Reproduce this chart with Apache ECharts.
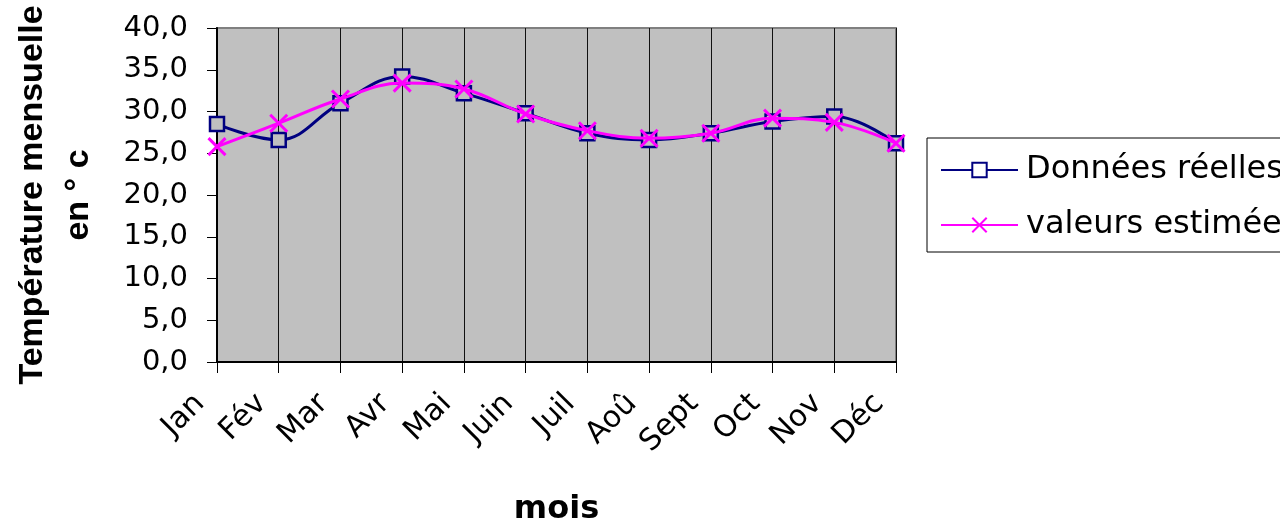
<!DOCTYPE html>
<html lang="fr">
<head>
<meta charset="utf-8">
<title>Température mensuelle</title>
<script src="https://cdn.jsdelivr.net/npm/echarts@6/dist/echarts.min.js"></script>
<style>
  html, body { margin: 0; padding: 0; background: #fff; }
  #chart { width: 1280px; height: 525px; }
</style>
</head>
<body>
<div id="chart"></div>
<script>
// Mois de l'année
const months = ['Jan', 'Fév', 'Mar', 'Avr', 'Mai', 'Juin', 'Juil', 'Aoû', 'Sept', 'Oct', 'Nov', 'Déc'];
// Températures mensuelles mesurées (°C)
const realValues = [28.5, 26.6, 31.0, 34.2, 32.2, 29.8, 27.4, 26.6, 27.4, 28.8, 29.4, 26.2];
// Températures mensuelles estimées par le modèle (°C)
const estimatedValues = [25.8, 28.6, 31.5, 33.4, 32.7, 29.7, 27.7, 26.8, 27.4, 29.2, 28.7, 26.2];
// Graduations de l'axe des températures
const yTicks = { min: 0, max: 40, step: 5 };

const FONT = 'DejaVu Sans';
const NAVY = '#000080';
const MAGENTA = '#FF00FF';
const PLOT_BG = '#C0C0C0';
const CROSS = 'path://M0,0L10,10M10,0L0,10';

const chart = echarts.init(document.getElementById('chart'), null, { renderer: 'canvas' });

chart.setOption({
  backgroundColor: '#fff',
  animation: false,
  grid: {
    left: 217, right: 384, top: 28, bottom: 163,
    outerBoundsMode: 'none',
    containLabel: false,
    show: true,
    backgroundColor: PLOT_BG,
    borderColor: '#808080',
    borderWidth: 2
  },
  legend: {
    orient: 'vertical',
    left: 927,
    top: 138,
    padding: [15, 14, 10, 13],
    backgroundColor: '#fff',
    borderColor: '#000',
    borderWidth: 1,
    itemWidth: 77,
    itemHeight: 18,
    itemGap: 21,
    textStyle: { fontFamily: FONT, fontSize: 32, color: '#000', lineHeight: 34, padding: [0, 0, 0, 3] },
    data: [
      { name: 'Données réelles', itemStyle: { color: '#fff' } },
      { name: 'valeurs estimées' }
    ]
  },
  xAxis: {
    type: 'category',
    data: months,
    boundaryGap: false,
    axisLine: { show: true, lineStyle: { color: '#000', width: 2 } },
    axisTick: { show: true, length: 11, lineStyle: { color: '#000', width: 1 } },
    splitLine: { show: true, lineStyle: { color: '#111', width: 1 } },
    axisLabel: {
      interval: 0,
      rotate: 45,
      margin: 20,
      padding: [0, 24, 0, 0],
      fontFamily: FONT,
      fontSize: 30,
      color: '#000'
    },
    name: 'mois',
    nameLocation: 'middle',
    nameGap: 132,
    nameTextStyle: { fontFamily: FONT, fontSize: 32, fontWeight: 'bold', color: '#000' }
  },
  yAxis: {
    type: 'value',
    min: yTicks.min,
    max: yTicks.max,
    interval: yTicks.step,
    axisLine: { show: true, lineStyle: { color: '#000', width: 2 } },
    axisTick: { show: true, length: 10, lineStyle: { color: '#000', width: 1 } },
    splitLine: { show: false },
    axisLabel: {
      margin: 29,
      fontFamily: FONT,
      fontSize: 29,
      color: '#000',
      formatter: v => v.toFixed(1).replace('.', ',')
    },
    name: 'Température mensuelle\nen ° c',
    nameLocation: 'middle',
    nameRotate: 90,
    nameGap: 115,
    nameTextStyle: {
      fontFamily: 'Liberation Sans',
      fontSize: 34,
      fontWeight: 'bold',
      color: '#000',
      align: 'center',
      lineHeight: 46
    }
  },
  series: [
    {
      name: 'Données réelles',
      type: 'line',
      data: realValues,
      smooth: 0.4,
      symbol: 'rect',
      symbolSize: 14,
      lineStyle: { color: NAVY, width: 3 },
      itemStyle: { color: PLOT_BG, borderColor: NAVY, borderWidth: 2.5 },
      z: 2
    },
    {
      name: 'valeurs estimées',
      type: 'line',
      data: estimatedValues,
      smooth: 0.4,
      symbol: CROSS,
      symbolSize: 17,
      lineStyle: { color: MAGENTA, width: 3 },
      itemStyle: { color: MAGENTA, borderColor: MAGENTA, borderWidth: 3 },
      z: 3
    }
  ]
});
</script>
</body>
</html>
